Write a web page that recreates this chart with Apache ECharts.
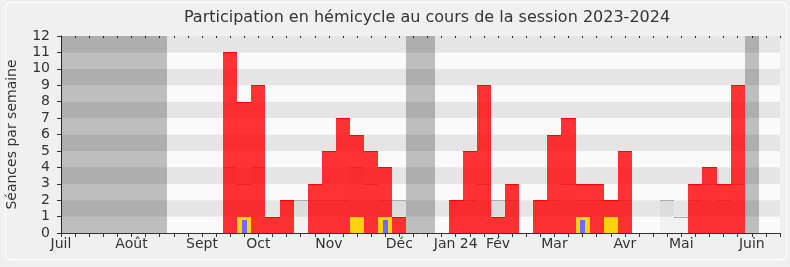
<!DOCTYPE html>
<html><head><meta charset="utf-8">
<script src="https://cdn.jsdelivr.net/npm/echarts@6/dist/echarts.min.js"></script>
<style>html,body{margin:0;padding:0;background:#f0f0f0}#c{width:790px;height:267px}</style>
</head><body><div id="c"></div>
<script>
// Weeks (Monday start) of the 2023-2024 session
const weeks = ['03/07','10/07','17/07','24/07','31/07','07/08','14/08','21/08','28/08','04/09','11/09','18/09','25/09','02/10','09/10','16/10','23/10','30/10','06/11','13/11','20/11','27/11','04/12','11/12','18/12','25/12','01/01','08/01','15/01','22/01','29/01','05/02','12/02','19/02','26/02','04/03','11/03','18/03','25/03','01/04','08/04','15/04','22/04','29/04','06/05','13/05','20/05','27/05','03/06','10/06','17/06','24/06'];
const monthTickWeeks = [0,5,10,14,19,24,28,31,35,40,44,49];
const monthTickLabels = ['Juil','Août','Sept','Oct','Nov','Déc','Jan 24','Fév','Mar','Avr','Mai','Juin'];
const yTicks = [0,1,2,3,4,5,6,7,8,9,10,11,12];

const seances      = [0,0,0,0,0,0,0,0,0,0,0,0, 11,8,9,1,2,0,3,5,7,6,5,4,1,0,0,0,2,5,9,1,3,0,2,6,7,3,3,2,5,0,0,0,0,3,4,3,9,0,0,0];
const mediane      = [0,0,0,0,0,0,0,0,0,0,0,0, 4,3,4,1,2,2,2,2,2,4,3,2,2,0,0,0,2,2,3,2,2,0,2,2,3,2,2,2,2,0,0,2,1,2,3,2,3,0,0,0];
const interventions= [0,0,0,0,0,0,0,0,0,0,0,0, 0,1,0,0,0,0,0,0,0,1,0,1,0,0,0,0,0,0,0,0,0,0,0,0,0,1,0,1,0,0,0,0,0,0,0,0,0,0,0,0];
const questions    = [0,0,0,0,0,0,0,0,0,0,0,0, 0,1,0,0,0,0,0,0,0,0,0,1,0,0,0,0,0,0,0,0,0,0,0,0,0,1,0,0,0,0,0,0,0,0,0,0,0,0,0,0];
const vacances     = [1,1,1,1,1,1,1,1,0,0,0,0, 0,0,0,0,0,0,0,0,0,0,0,0,0,1,1,0,0,0,0,0,0,0,0,0,0,0,0,0,0,0,0,0,0,0,0,0,0,1,0,0];

const FONT = '"DejaVu Sans", Verdana, sans-serif';
const pairs = arr => arr.map((v, i) => [i, v]);

const rnd = v => Math.round(Math.round(v * 1000) / 1000);
function snap(r) {
  const x1 = rnd(r.x), x2 = rnd(r.x + r.width);
  const y1 = rnd(r.y), y2 = rnd(r.y + r.height);
  return { x: x1, y: y1, width: x2 - x1, height: y2 - y1 };
}

function bandRect(params, api, v, widthRatio, topInset) {
  const i = api.value(0);
  const top = api.coord([i, v]);
  const base = api.coord([i, 0]);
  const bw = api.size([1, 0])[0] * widthRatio;
  const r = echarts.graphic.clipRectByRect({
    x: top[0] - bw / 2, y: top[1] + topInset, width: bw, height: base[1] - top[1] - topInset
  }, params.coordSys);
  return r ? snap(r) : r;
}

function barRender(fill, lineColor, widthRatio, topInset) {
  return function (params, api) {
    const v = api.value(1);
    if (!v) return;
    const r = bandRect(params, api, v, widthRatio, topInset);
    if (!r) return;
    const children = [{ type: 'rect', shape: r, style: { fill: fill } }];
    if (lineColor) {
      const y = r.y + 0.5;
      children.push({ type: 'line', shape: { x1: r.x, y1: y, x2: r.x + r.width, y2: y },
        style: { stroke: lineColor, lineWidth: 1 } });
    }
    return { type: 'group', children: children };
  };
}

function vacRender(params, api) {
  if (!api.value(1)) return;
  const i = api.value(0);
  const c = api.coord([i, 0]);
  const bw = api.size([1, 0])[0];
  const cs = params.coordSys;
  const r = echarts.graphic.clipRectByRect({ x: c[0] - bw / 2, y: cs.y, width: bw, height: cs.height }, cs);
  if (!r) return;
  return { type: 'rect', shape: snap(r), style: { fill: 'rgba(0,0,0,0.24)' } };
}

const chart = echarts.init(document.getElementById('c'), null, { renderer: 'canvas' });
chart.setOption({
  animation: false,
  backgroundColor: '#f0f0f0',
  graphic: [
    { type: 'rect', z: -10, shape: { x: 5.5, y: 2.5, width: 781, height: 257, r: 5 },
      style: { fill: 'none', stroke: '#fbfbfb', lineWidth: 1.5 } },
    { type: 'text', x: 427, y: 18,
      style: { text: 'Participation en hémicycle au cours de la session 2023-2024',
        font: '16px ' + FONT, fill: '#333', align: 'center', verticalAlign: 'middle',
        textAlign: 'center', textVerticalAlign: 'middle' } }
  ],
  grid: { left: 61, right: 10, top: 36, bottom: 34, containLabel: false, outerBoundsMode: 'none' },
  xAxis: [{
    type: 'category', data: weeks, boundaryGap: false,
    axisLine: { show: true, lineStyle: { color: '#333', width: 1 } },
    axisTick: { show: true, interval: 0, length: 4, lineStyle: { color: '#333' } },
    axisLabel: { interval: 0, margin: 4, color: '#333', fontSize: 14, fontFamily: FONT,
      formatter: (v, idx) => { const k = monthTickWeeks.indexOf(idx); return k >= 0 ? monthTickLabels[k] : ''; } },
    splitLine: { show: false }
  }, {
    type: 'category', data: weeks, boundaryGap: false, position: 'top',
    axisLine: { show: false },
    axisTick: { show: true, inside: true, interval: 0, length: 2, lineStyle: { color: '#222' } },
    axisLabel: { show: false }, splitLine: { show: false }
  }],
  yAxis: {
    type: 'value', min: yTicks[0], max: yTicks[yTicks.length - 1], interval: 1,
    name: 'Séances par semaine', nameLocation: 'middle', nameGap: 42,
    nameTextStyle: { fontSize: 14, color: '#333', fontFamily: FONT },
    axisLine: { show: true, lineStyle: { color: '#333', width: 1 } },
    axisTick: { show: true, length: 4, lineStyle: { color: '#333' } },
    axisLabel: { margin: 11, color: '#333', fontSize: 14, fontFamily: FONT },
    splitLine: { show: false },
    splitArea: { show: true, areaStyle: { color: ['#fafafa', '#e5e5e5'] } }
  },
  series: [
    { type: 'custom', name: 'Vacances', renderItem: vacRender, data: pairs(vacances), encode: { x: 0, y: 1 }, z: 1 },
    { type: 'custom', name: 'Médiane', renderItem: barRender('rgba(0,0,0,0.03)', '#aaaaaa', 1, 0), data: pairs(mediane), encode: { x: 0, y: 1 }, z: 2 },
    { type: 'custom', name: 'Séances', renderItem: barRender('rgba(255,0,0,0.8)', '#ff0000', 1, 0), data: pairs(seances), encode: { x: 0, y: 1 }, z: 3 },
    { type: 'custom', name: 'Interventions', renderItem: barRender('#ffd30f', null, 1, 0), data: pairs(interventions), encode: { x: 0, y: 1 }, z: 4 },
    { type: 'custom', name: 'Questions', renderItem: barRender('#6b6bff', null, 0.36, 3), data: pairs(questions), encode: { x: 0, y: 1 }, z: 5 }
  ]
});
</script></body></html>
